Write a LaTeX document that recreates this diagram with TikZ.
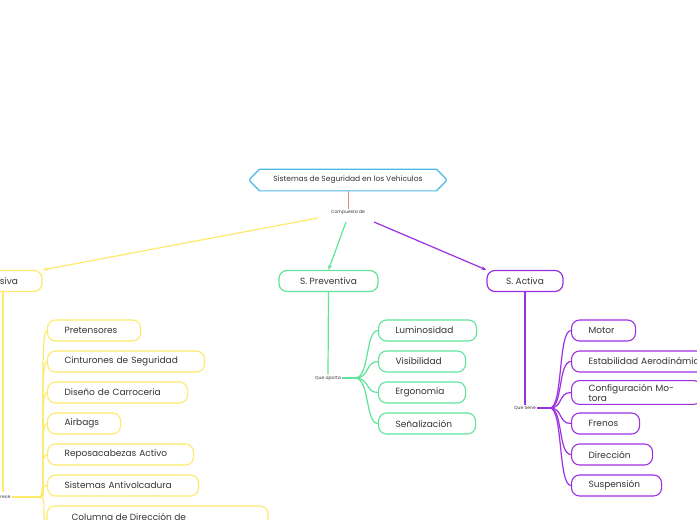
\documentclass[tikz,border=0pt]{standalone}
\usepackage{fontspec}
\setmainfont{Poppins}
\usetikzlibrary{shapes.misc,arrows.meta}

\definecolor{rootblue}{HTML}{4DB8E8}
\definecolor{linkred}{HTML}{F08080}
\definecolor{pasyel}{HTML}{FDE96A}
\definecolor{prevgreen}{HTML}{5EE39A}
\definecolor{actpurple}{HTML}{9B30E0}

\tikzset{
  topic/.style={draw=#1, line width=1.2pt, rounded corners=8pt, minimum height=21pt,
    inner xsep=0pt, font=\fontsize{9}{10}\selectfont, text=black!80},
  leaf/.style={draw=#1, line width=1.1pt, rounded corners=8pt, minimum height=21pt,
    anchor=west, font=\fontsize{9}{10}\selectfont, text=black!80, align=left, inner xsep=17pt},
  linkword/.style={font=\fontsize{4.5}{5}\selectfont, text=black!80, inner sep=1pt},
  arrowline/.style={draw=#1, line width=1.2pt, -{Stealth[length=5pt]}},
}

\begin{document}
\begin{tikzpicture}[x=1pt,y=-1pt]
\useasboundingbox (0,0) rectangle (697,520);

% Root
\node[draw=rootblue, line width=1.2pt, chamfered rectangle, chamfered rectangle xsep=6pt,
  minimum width=196pt, minimum height=18pt, font=\fontsize{7.5}{8}\selectfont, text=black!80]
  (root) at (348,180) {Sistemas de Seguridad en los Vehiculos};
\node[linkword] (comp) at (348,212) {Compuesta de};
\draw[linkred, line width=1pt] (root.south) -- (comp.north);

% Main topics
\node[topic=pasyel, minimum width=87pt] (pasiva) at (-1.5,281) {S. Pasiva};
\node[topic=prevgreen, minimum width=99pt] (preventiva) at (328.5,281) {S. Preventiva};
\node[topic=actpurple, minimum width=76pt] (activa) at (525,281) {S. Activa};

\draw[arrowline=pasyel] (318,218) -- (pasiva.north east);
\draw[arrowline=prevgreen] (346,222) -- (preventiva.north);
\draw[arrowline=actpurple] (374,222) -- (activa.north west);

% Link words
\node[linkword] (ofrece) at (-2,497) {Que ofrece};
\node[linkword] (aporta) at (328,378) {Que aporta};
\node[linkword] (tiene) at (525,408) {Que tiene};
\draw[pasyel, line width=1.2pt] (3,292) -- (3,492);
\draw[prevgreen, line width=1.2pt] (preventiva.south) -- (aporta.north);
\draw[actpurple, line width=1.2pt] (activa.south) -- (tiene.north);

\coordinate (hubP) at (40,497);
\coordinate (hubV) at (355,378);
\coordinate (hubA) at (550,408);
\draw[pasyel, line width=1.2pt] (ofrece.east) -- (hubP);
\draw[prevgreen, line width=1.2pt] (aporta.east) -- (hubV);
\draw[actpurple, line width=1.2pt] (tiene.east) -- (hubA);

% Pasiva items
\foreach \name/\txt/\w [count=\i] in {pa1/Pretensores/93, pa2/Cinturones de Seguridad/157,
  pa3/Diseño de Carroceria/140, pa4/Airbags/73, pa5/Reposacabezas Activo/146,
  pa6/Sistemas Antivolcadura/151} {
  \node[leaf=pasyel, text width=\w pt-34pt] (\name) at (47,{330.5+31*(\i-1)}) {\txt};
  \draw[pasyel, line width=1.2pt] (hubP) .. controls (48,497) and (38,{330.5+31*(\i-1)}) .. (\name.west);
}
\draw[pasyel, line width=1.1pt, rounded corners=8pt] (47,530) |- (268,506) -- (268,530);
\node[font=\fontsize{9}{10}\selectfont, text=black!80, anchor=west] (pa7) at (68,517) {Columna de Dirección de};
\draw[pasyel, line width=1.2pt] (hubP) .. controls (48,497) and (40,515) .. (47,525);

% Preventiva items
\foreach \name/\txt/\w [count=\i] in {pv1/Luminosidad/98, pv2/Visibilidad/87,
  pv3/Ergonomia/87, pv4/Señalización/97} {
  \node[leaf=prevgreen, text width=\w pt-34pt] (\name) at (378,{330.5+31*(\i-1)}) {\txt};
  \draw[prevgreen, line width=1.2pt] (hubV) .. controls (370,378) and (365,{330.5+31*(\i-1)}) .. (\name.west);
}

% Activa items
\foreach \name/\txt/\w [count=\i] in {ac1/Motor/64, ac2/Estabilidad Aerodinámica/170,
  ac3/Configuración Motora/130, ac4/Frenos/68, ac5/Dirección/81, ac6/Suspensión/90} {
  \node[leaf=actpurple, text width=\w pt-34pt] (\name) at (571,{330.5+31*(\i-1)}) {\txt};
  \draw[actpurple, line width=1.2pt] (hubA) .. controls (563,408) and (558,{330.5+31*(\i-1)}) .. (\name.west);
}
\end{tikzpicture}
\end{document}
